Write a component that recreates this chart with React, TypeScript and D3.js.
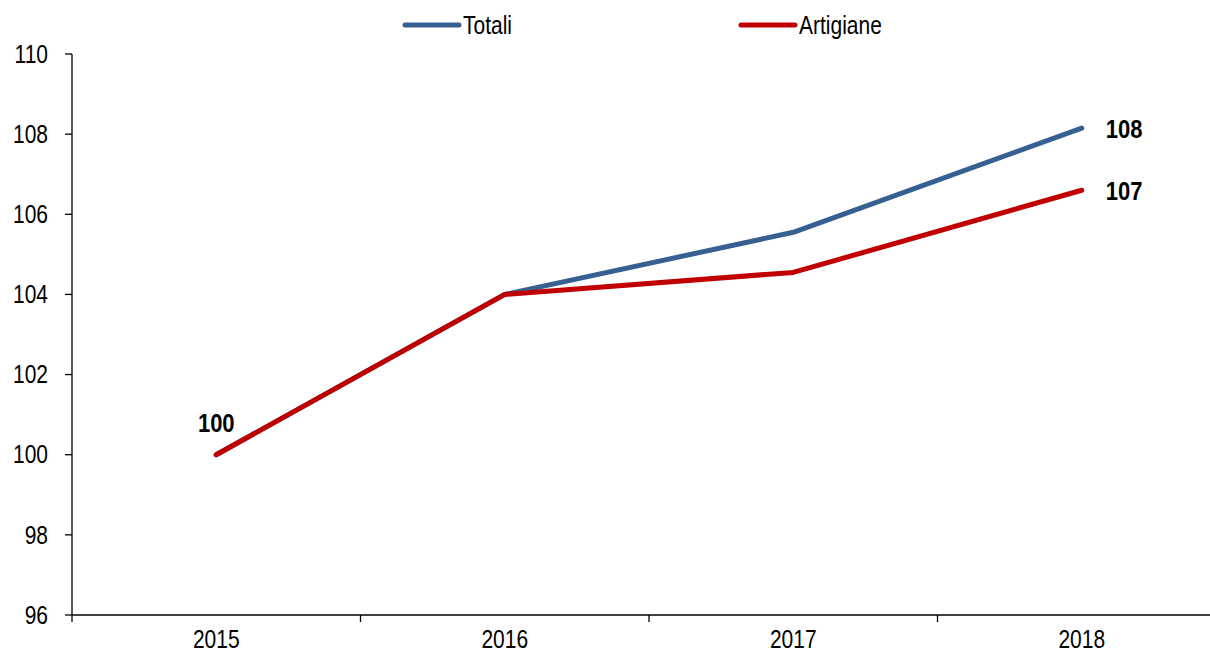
import React from "react";
import * as d3 from "d3";

const categories = ["2015", "2016", "2017", "2018"];
const totali = [100, 104, 105.55, 108.15];
const artigiane = [100, 104, 104.55, 106.6];
const yTicks = [96, 98, 100, 102, 104, 106, 108, 110];
const seriesNames = ["Totali", "Artigiane"];
const colors = ["#356091", "#C00000"];

const W = 1210;
const H = 653;
const FONT = "'Liberation Sans', Arial, sans-serif";

function T(props: {
  x: number;
  y: number;
  anchor?: "start" | "middle" | "end";
  size?: number;
  bold?: boolean;
  sx?: number;
  children: React.ReactNode;
}) {
  const { x, y, anchor = "start", size = 25, bold = false, sx = 0.84, children } = props;
  return (
    <text
      transform={`translate(${x},${y}) scale(${sx},1)`}
      dy="0.35em"
      textAnchor={anchor}
      fontSize={size}
      fontWeight={bold ? "bold" : "normal"}
      fill="#000"
    >
      {children}
    </text>
  );
}

export default function App() {
  const x0 = 72;
  const band = 288.5;
  const x = d3.scaleBand<string>().domain(categories).range([x0, x0 + band * categories.length]).padding(0);
  const y = d3.scaleLinear().domain([96, 110]).range([615, 54]);
  const cx = (c: string) => (x(c) as number) + x.bandwidth() / 2;
  const line = d3.line<number>().x((_, i) => cx(categories[i])).y((d) => y(d));
  const series = [totali, artigiane];
  const boundaries = d3.range(categories.length + 1).map((i) => x0 + band * i);

  return (
    <svg width={W} height={H} style={{ position: "absolute", left: 0, top: 0, background: "#fff" }} fontFamily={FONT}>
      {/* y axis */}
      <line x1={x0} x2={x0} y1={y(110)} y2={y(96)} stroke="#000" strokeWidth={1.3} />
      {yTicks.map((t) => (
        <g key={t}>
          <line x1={x0 - 7} x2={x0} y1={y(t)} y2={y(t)} stroke="#000" strokeWidth={1.3} />
          <T x={48} y={y(t)} anchor="end">
            {t}
          </T>
        </g>
      ))}
      {/* x axis */}
      <line x1={x0} x2={W} y1={y(96)} y2={y(96)} stroke="#000" strokeWidth={1.3} />
      {boundaries.map((b, i) => (
        <line key={i} x1={b} x2={b} y1={y(96)} y2={y(96) + 7} stroke="#000" strokeWidth={1.3} />
      ))}
      {categories.map((c) => (
        <T key={c} x={cx(c)} y={639} anchor="middle">
          {c}
        </T>
      ))}
      {/* lines */}
      {[0, 1].map((i) => (
        <path
          key={i}
          d={line(series[i]) as string}
          fill="none"
          stroke={colors[i]}
          strokeWidth={5}
          strokeLinecap="round"
          strokeLinejoin="round"
        />
      ))}
      {/* data labels */}
      <T x={cx(categories[0])} y={423} anchor="middle" bold sx={0.88}>
        {Math.round(totali[0])}
      </T>
      <T x={cx(categories[3]) + 24} y={y(totali[3]) + 1} bold sx={0.88}>
        {Math.round(totali[3])}
      </T>
      <T x={cx(categories[3]) + 24} y={y(artigiane[3]) + 1} bold sx={0.88}>
        {Math.round(artigiane[3])}
      </T>
      {/* legend */}
      {seriesNames.map((n, i) => {
        const lx = i === 0 ? 405 : 741;
        return (
          <g key={n}>
            <line x1={lx} x2={lx + 54} y1={25} y2={25} stroke={colors[i]} strokeWidth={5} strokeLinecap="round" />
            <T x={lx + 58} y={25}>
              {n}
            </T>
          </g>
        );
      })}
    </svg>
  );
}
